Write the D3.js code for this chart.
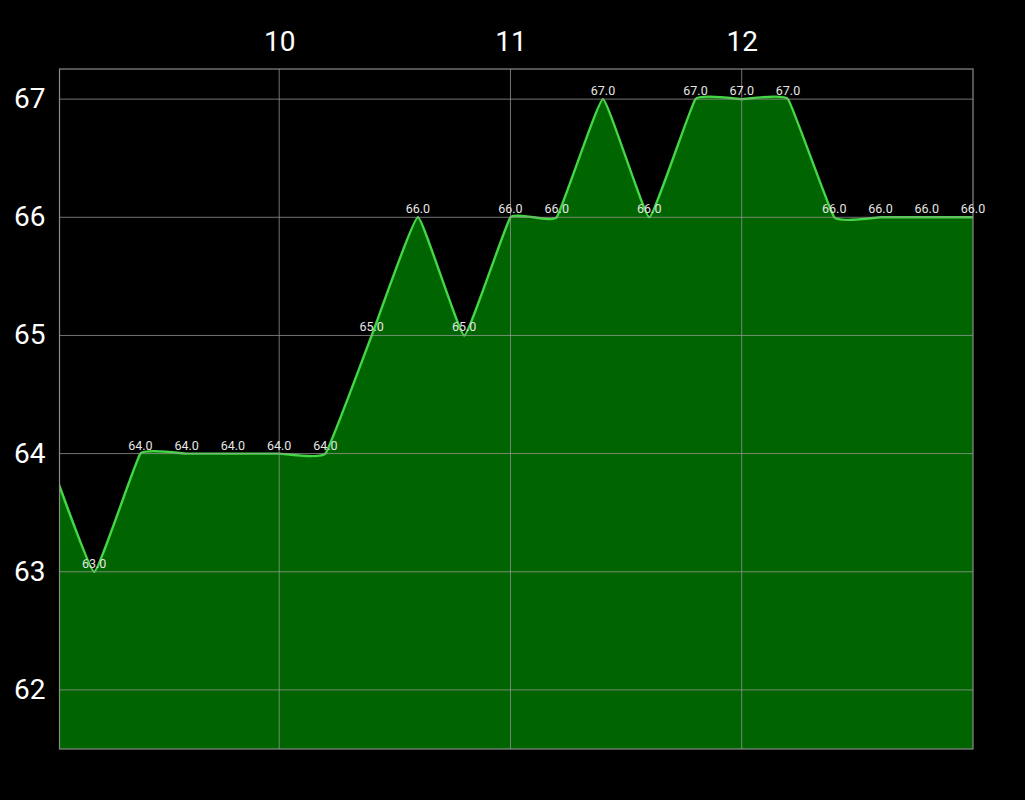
<!DOCTYPE html>
<html>
<head>
<meta charset="utf-8">
<script src="https://cdn.jsdelivr.net/npm/d3@7"></script>
<style>
  html, body { margin: 0; padding: 0; background: #000; }
  svg { display: block; }
  text { font-family: Roboto, "Noto Sans", sans-serif; }
</style>
</head>
<body>
<svg id="chart" width="1025" height="800"></svg>
<script>
// ---- data ----
const xValues = [9.0, 9.2, 9.4, 9.6, 9.8, 10.0, 10.2, 10.4, 10.6, 10.8, 11.0, 11.2, 11.4, 11.6, 11.8, 12.0, 12.2, 12.4, 12.6, 12.8, 13.0];
const yValues = [64, 63, 64, 64, 64, 64, 64, 65, 66, 65, 66, 66, 67, 66, 67, 67, 67, 66, 66, 66, 66];
const xTicks = [10, 11, 12];
const yTicks = [62, 63, 64, 65, 66, 67];
const xDomain = [9.05, 13.0];
const yDomain = [61.5, 67.255];

// ---- layout ----
const pL = 59.5, pR = 973, pT = 69, pB = 749;
const svg = d3.select("#chart");
svg.append("rect").attr("width", 1025).attr("height", 800).attr("fill", "#000");

const x = d3.scaleLinear().domain(xDomain).range([pL, pR]);
const y = d3.scaleLinear().domain(yDomain).range([pB, pT]);

const data = xValues.map((v, i) => ({ x: v, y: yValues[i] }));

svg.append("defs").append("clipPath").attr("id", "clip")
  .append("rect").attr("x", pL).attr("y", pT).attr("width", pR - pL).attr("height", pB - pT);

const curve = d3.curveCardinal.tension(0.7);

const g = svg.append("g").attr("clip-path", "url(#clip)");

g.append("path")
  .datum(data)
  .attr("fill", "#006400")
  .attr("d", d3.area().x(d => x(d.x)).y0(pB).y1(d => y(d.y)).curve(curve));

// grid lines (on top of fill)
const grid = svg.append("g");
grid.selectAll("line.h").data(yTicks).enter().append("line")
  .attr("x1", pL).attr("x2", pR)
  .attr("y1", d => y(d)).attr("y2", d => y(d))
  .attr("stroke", "#9a9a9a").attr("stroke-opacity", 0.75).attr("stroke-width", 1);
grid.selectAll("line.v").data(xTicks).enter().append("line")
  .attr("y1", pT).attr("y2", pB)
  .attr("x1", d => x(d)).attr("x2", d => x(d))
  .attr("stroke", "#9a9a9a").attr("stroke-opacity", 0.75).attr("stroke-width", 1);

// border
svg.append("rect")
  .attr("x", pL).attr("y", pT).attr("width", pR - pL).attr("height", pB - pT)
  .attr("fill", "none").attr("stroke", "#8a8a8a").attr("stroke-width", 1.2);

// line
g.append("path")
  .datum(data)
  .attr("fill", "none")
  .attr("stroke", "#44d644")
  .attr("stroke-width", 2.4)
  .attr("stroke-linejoin", "round")
  .attr("d", d3.line().x(d => x(d.x)).y(d => y(d.y)).curve(curve));

// axes labels
const xAxis = d3.axisTop(x).tickValues(xTicks).tickFormat(d3.format("d")).tickSize(0).tickPadding(0);
const xg = svg.append("g").attr("transform", `translate(0,${pT})`).call(xAxis);
xg.select(".domain").remove();
xg.selectAll("text").attr("fill", "#fff").attr("font-size", 28).attr("y", -18).attr("dy", 0)
  .style("font-family", "Roboto, sans-serif");

const yAxis = d3.axisLeft(y).tickValues(yTicks).tickFormat(d3.format("d")).tickSize(0).tickPadding(0);
const yg = svg.append("g").attr("transform", `translate(${pL},0)`).call(yAxis);
yg.select(".domain").remove();
yg.selectAll("text").attr("fill", "#fff").attr("font-size", 28).attr("x", -14).attr("dy", "0.3em")
  .style("font-family", "Roboto, sans-serif");

// value labels
svg.append("g").selectAll("text")
  .data(data.filter(d => d.x >= xDomain[0] && d.x <= xDomain[1]))
  .enter().append("text")
  .attr("x", d => x(d.x))
  .attr("y", d => y(d.y) - 4)
  .attr("text-anchor", "middle")
  .attr("fill", "#e6e6e6")
  .attr("font-size", 12.5)
  .text(d => d3.format(".1f")(d.y));
</script>
</body>
</html>
